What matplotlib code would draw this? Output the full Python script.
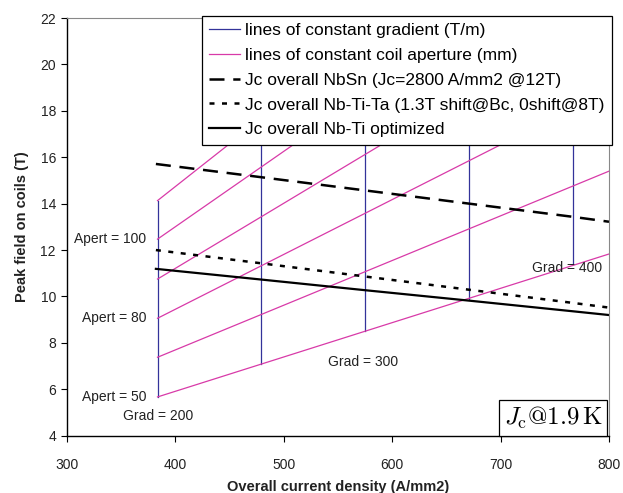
import matplotlib
matplotlib.use("Agg")
import matplotlib.pyplot as plt
from matplotlib.offsetbox import AnchoredText

plt.rcParams['font.family'] = ['Liberation Sans', 'DejaVu Sans']
plt.rcParams['mathtext.fontset'] = 'cm'

# Current densities at which the constant-gradient lines lie (A/mm2)
grad_J = [383.5, 479.4, 575.3, 671.2, 767.1]
grad_bottom = [5.67, 7.09, 8.51, 9.88, 11.39]
grad_top = [14.13, 17.7, 21.2, 24.8, 28.3]

# Lines of constant coil aperture (start at first gradient line, end at J=800)
apert_J = [383.5, 800]
apert_lines = [
    [5.67, 11.83],
    [7.38, 15.40],
    [9.06, 18.90],
    [10.75, 22.43],
    [12.47, 26.00],
    [14.13, 29.48],
]

# Jc curves
jc_J = [382, 479, 575, 671, 767, 800]
nbsn = [15.71, 15.14, 14.57, 14.00, 13.43, 13.22]
nbtita = [12.00, 11.43, 10.86, 10.29, 9.72, 9.52]
nbti = [11.19, 10.73, 10.27, 9.82, 9.36, 9.20]

xticks = [300, 400, 500, 600, 700, 800]
yticks = [4, 6, 8, 10, 12, 14, 16, 18, 20, 22]

blue = '#33339a'
magenta = '#d83aa8'
txt = '#222222'

fig = plt.figure(figsize=(6.23, 4.93), dpi=100)
ax = fig.add_axes([67/623, 57.3/493, 542/623, 417.7/493])

for i, (j, b, t) in enumerate(zip(grad_J, grad_bottom, grad_top)):
    ax.plot([j, j], [b, t], color=blue, lw=0.9,
            label='lines of constant gradient (T/m)' if i == 0 else None)
for i, ys in enumerate(apert_lines):
    ax.plot(apert_J, ys, color=magenta, lw=0.9,
            label='lines of constant coil aperture (mm)' if i == 0 else None)

ax.plot(jc_J, nbsn, color='black', lw=1.8, dashes=(6, 3.5),
        label='Jc overall NbSn (Jc=2800 A/mm2 @12T)')
ax.plot(jc_J, nbtita, color='black', lw=1.8, dashes=(2, 3),
        label='Jc overall Nb-Ti-Ta (1.3T shift@Bc, 0shift@8T)')
ax.plot(jc_J, nbti, color='black', lw=1.6,
        label='Jc overall Nb-Ti optimized')

ax.set_xlim(300, 800)
ax.set_ylim(4, 22)
ax.set_xticks(xticks)
ax.set_yticks(yticks)
ax.tick_params(direction='out', length=4, width=0.8, labelsize=10,
               labelcolor=txt)
ax.tick_params(axis='y', pad=4)
ax.tick_params(axis='x', pad=12)
ax.spines['top'].set_color('#888888')
ax.spines['right'].set_color('#888888')
for s in ['left', 'bottom']:
    ax.spines[s].set_linewidth(1.0)

ax.set_xlabel('Overall current density (A/mm2)', fontsize=10.5,
              fontweight='bold', color=txt, labelpad=6)
ax.set_ylabel('Peak field on coils (T)', fontsize=10.5,
              fontweight='bold', color=txt, labelpad=8)

fs = 10
ax.text(373, 12.47, 'Apert = 100', ha='right', va='center', fontsize=fs, color=txt)
ax.text(373, 9.06, 'Apert = 80', ha='right', va='center', fontsize=fs, color=txt)
ax.text(373, 5.67, 'Apert = 50', ha='right', va='center', fontsize=fs, color=txt)
ax.text(384, 4.85, 'Grad = 200', ha='center', va='center', fontsize=fs, color=txt)
ax.text(573, 7.18, 'Grad = 300', ha='center', va='center', fontsize=fs, color=txt)
ax.text(761, 11.24, 'Grad = 400', ha='center', va='center', fontsize=fs, color=txt)

at = AnchoredText(r'$J_{\rm c}@1.9\,{\rm K}$', loc='lower right',
                  prop=dict(size=18), frameon=True, pad=0.18, borderpad=0,
                  bbox_to_anchor=(607/623, 57.3/493),
                  bbox_transform=fig.transFigure)
at.patch.set_boxstyle('square,pad=0')
at.patch.set_linewidth(0.9)
ax.add_artist(at)

leg = ax.legend(loc='upper right', bbox_to_anchor=(611.5/623, 477/493),
                bbox_transform=fig.transFigure, fontsize=12.5, frameon=True,
                fancybox=False, edgecolor='black', framealpha=1,
                handlelength=1.75, handletextpad=0.3, labelspacing=0.55,
                borderpad=0.42, borderaxespad=0)
leg.get_frame().set_linewidth(0.9)

fig.savefig('out.png', dpi=100)
